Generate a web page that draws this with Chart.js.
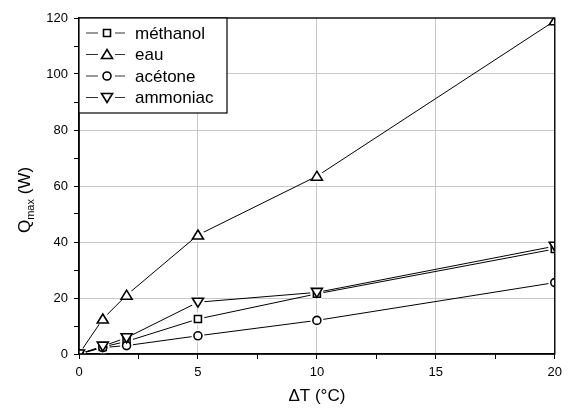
<!DOCTYPE html>
<html>
<head>
<meta charset="utf-8">
<script src="https://cdn.jsdelivr.net/npm/chart.js@4/dist/chart.umd.min.js"></script>
<style>
  html, body { margin: 0; padding: 0; background: #fff; }
  #wrap { width: 568px; height: 409px; }
</style>
</head>
<body>
<div id="wrap"><canvas id="chart"></canvas></div>
<script>
// x values (delta T, °C)
const deltaT = [0, 1, 2, 5, 10, 20];

// Qmax (W) per fluid
const methanol = [0, 2.5, 4.5, 12.5, 21.5, 37.5];
const eau = [0, 12.5, 21, 42.5, 63.5, 119];
const acetone = [0, 2.3, 3, 6.5, 12, 25.5];
const ammoniac = [0, 2.8, 5.8, 18.5, 22, 38.5];

const seriesNames = ["méthanol", "eau", "acétone", "ammoniac"];
const seriesValues = [methanol, eau, acetone, ammoniac];
const seriesMarkers = ["rect", "triangle", "circle", "triangleDown"];

const xTickLabels = [0, 5, 10, 15, 20];
const yTickLabels = [0, 20, 40, 60, 80, 100, 120];

const FONT = "Liberation Sans, Arial, sans-serif";

// draw one marker (also used by the legend)
function drawMarker(ctx, style, x, y) {
  ctx.save();
  ctx.fillStyle = "#fff";
  ctx.strokeStyle = "#000";
  ctx.lineWidth = 1.6;
  ctx.beginPath();
  if (style === "rect") {
    ctx.rect(x - 3.5, y - 3.5, 7, 7);
  } else if (style === "circle") {
    ctx.arc(x, y, 4, 0, Math.PI * 2);
  } else if (style === "triangle") {
    ctx.moveTo(x, y - 5);
    ctx.lineTo(x + 5.5, y + 4);
    ctx.lineTo(x - 5.5, y + 4);
    ctx.closePath();
  } else {
    ctx.moveTo(x, y + 5);
    ctx.lineTo(x + 5.5, y - 4);
    ctx.lineTo(x - 5.5, y - 4);
    ctx.closePath();
  }
  ctx.fill();
  ctx.stroke();
  ctx.restore();
}

// markers drawn by hand so the triangle-down works and the line stops short of them
const markerPlugin = {
  id: "markers",
  afterDatasetsDraw(chart) {
    const { ctx, chartArea } = chart;
    ctx.save();
    ctx.beginPath();
    ctx.rect(chartArea.left, chartArea.top, chartArea.right - chartArea.left, chartArea.bottom - chartArea.top);
    ctx.clip();
    chart.data.datasets.forEach((ds, i) => {
      const meta = chart.getDatasetMeta(i);
      meta.data.forEach(pt => {
        // white halo gives the small gap around each marker
        ctx.save();
        ctx.fillStyle = "#fff";
        ctx.beginPath();
        ctx.arc(pt.x, pt.y, 6.5, 0, Math.PI * 2);
        ctx.fill();
        ctx.restore();
      });
    });
    chart.data.datasets.forEach((ds, i) => {
      const meta = chart.getDatasetMeta(i);
      meta.data.forEach(pt => drawMarker(ctx, seriesMarkers[i], pt.x, pt.y));
    });
    ctx.restore();
  }
};

const framePlugin = {
  id: "frame",
  afterDraw(chart) {
    const { ctx, chartArea: a } = chart;
    ctx.save();
    ctx.strokeStyle = "#000";
    ctx.lineWidth = 1.4;
    ctx.strokeRect(a.left, a.top, a.right - a.left, a.bottom - a.top);

    // legend box
    const lx = a.left, ly = a.top, lw = 148, lh = 95;
    ctx.fillStyle = "#fff";
    ctx.fillRect(lx, ly, lw, lh);
    ctx.lineWidth = 1.2;
    ctx.strokeRect(lx, ly, lw, lh);
    ctx.font = "17px " + FONT;
    ctx.textBaseline = "middle";
    ctx.textAlign = "left";
    seriesNames.forEach((name, i) => {
      const y = ly + 15 + i * 21.5;
      ctx.strokeStyle = "#333";
      ctx.lineWidth = 1;
      ctx.beginPath();
      ctx.moveTo(lx + 7, y);
      ctx.lineTo(lx + 19, y);
      ctx.moveTo(lx + 36, y);
      ctx.lineTo(lx + 46, y);
      ctx.stroke();
      drawMarker(ctx, seriesMarkers[i], lx + 28, y);
      ctx.fillStyle = "#000";
      ctx.fillText(name, lx + 56, y + 1);
    });

    // axis titles
    ctx.fillStyle = "#000";
    ctx.textAlign = "center";
    ctx.textBaseline = "middle";
    ctx.font = "17px " + FONT;
    ctx.fillText("\u0394T (\u00B0C)", (a.left + a.right) / 2, 396);

    ctx.save();
    ctx.translate(24, 200);
    ctx.rotate(-Math.PI / 2);
    ctx.textAlign = "left";
    ctx.textBaseline = "alphabetic";
    const big = "17px " + FONT, small = "11px " + FONT;
    ctx.font = big;
    const wQ = ctx.measureText("Q").width;
    const wR = ctx.measureText(" (W)").width;
    ctx.font = small;
    const wM = ctx.measureText("max").width;
    let x = -(wQ + wM + wR) / 2;
    ctx.font = big;
    ctx.fillText("Q", x, 6);
    x += wQ;
    ctx.font = small;
    ctx.fillText("max", x, 10);
    x += wM;
    ctx.font = big;
    ctx.fillText(" (W)", x, 6);
    ctx.restore();

    ctx.restore();
  }
};

const datasets = seriesNames.map((name, i) => ({
  label: name,
  data: deltaT.map((t, k) => ({ x: t, y: seriesValues[i][k] })),
  borderColor: "#000",
  borderWidth: 1,
  pointRadius: 0,
  pointHoverRadius: 0,
  fill: false,
  tension: 0
}));

new Chart(document.getElementById("chart"), {
  type: "line",
  data: { datasets },
  options: {
    responsive: true,
    maintainAspectRatio: false,
    animation: false,
    layout: { padding: { left: 0, right: 13, top: 18, bottom: 0 } },
    plugins: {
      legend: { display: false },
      tooltip: { enabled: false }
    },
    scales: {
      x: {
        type: "linear",
        min: 0,
        max: 20,
        afterFit(scale) { scale.height = 55; },
        afterBuildTicks(scale) {
          const t = [];
          for (let v = 0; v <= 20; v += 2.5) t.push({ value: v });
          scale.ticks = t;
        },
        border: { color: "#000", width: 1.5 },
        grid: {
          color: c => (xTickLabels.includes(c.tick.value) && c.tick.value > 0 && c.tick.value < 20) ? "#c8c8c8" : "rgba(0,0,0,0)",
          tickColor: "#000",
          tickLength: 5,
          lineWidth: 1
        },
        ticks: {
          color: "#000",
          font: { family: FONT, size: 13 },
          padding: 6,
          maxRotation: 0,
          autoSkip: false,
          callback: v => xTickLabels.includes(v) ? String(v) : ""
        }
      },
      y: {
        type: "linear",
        min: 0,
        max: 120,
        afterFit(scale) { scale.width = 79; },
        afterBuildTicks(scale) {
          const t = [];
          for (let v = 0; v <= 120; v += 10) t.push({ value: v });
          scale.ticks = t;
        },
        border: { color: "#000", width: 1.5 },
        grid: {
          color: c => (yTickLabels.includes(c.tick.value) && c.tick.value > 0 && c.tick.value < 120) ? "#c8c8c8" : "rgba(0,0,0,0)",
          tickColor: "#000",
          tickLength: 5,
          lineWidth: 1
        },
        ticks: {
          color: "#000",
          font: { family: FONT, size: 13 },
          padding: 6,
          autoSkip: false,
          callback: v => yTickLabels.includes(v) ? String(v) : ""
        }
      }
    }
  },
  plugins: [markerPlugin, framePlugin]
});
</script>
</body>
</html>
